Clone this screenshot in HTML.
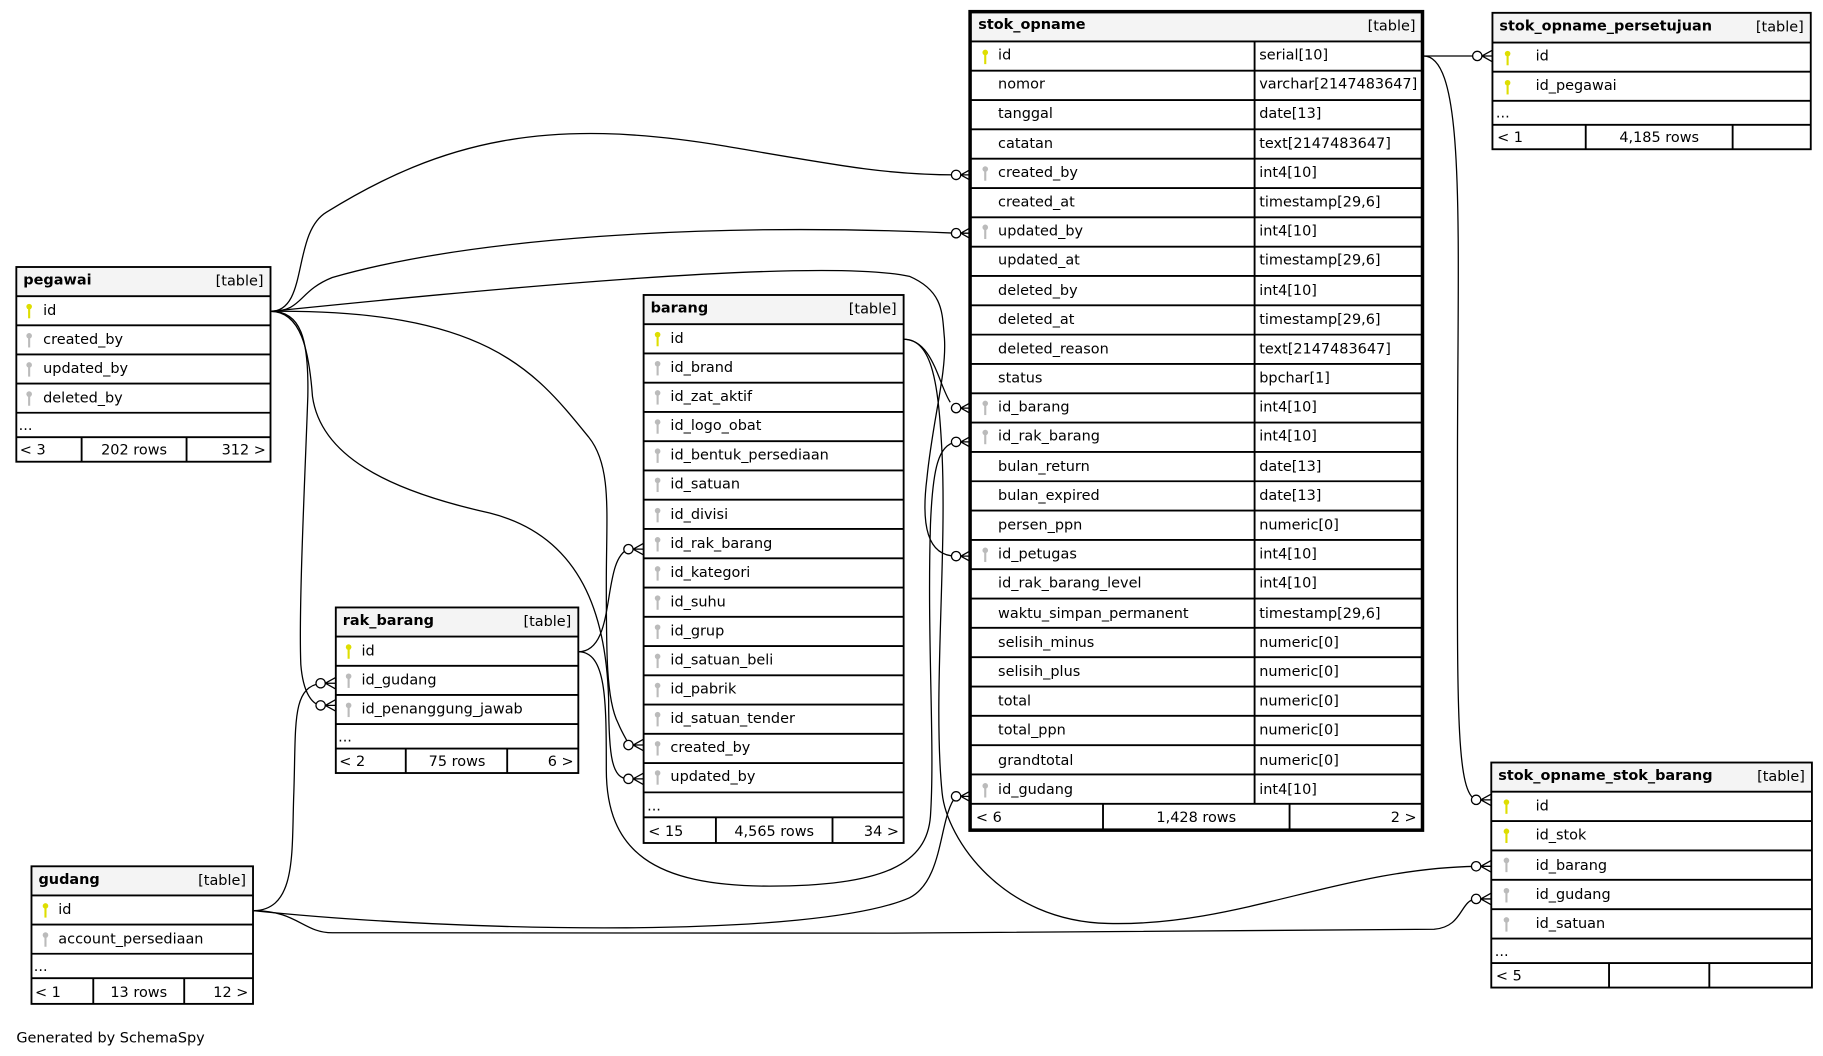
<!DOCTYPE html>
<html><head><meta charset="utf-8"><style>
html,body{margin:0;padding:0;background:#fff;}
svg{display:block;}
text{font-family:"DejaVu Sans","Liberation Sans",sans-serif;font-size:12.4px;fill:#000;}
.h{font-weight:bold;}
.hd{fill:#f4f4f4;}
.ln{stroke:#000;stroke-width:1.6;}
.e{fill:none;stroke:#000;stroke-width:1.1;}
.c{fill:#fff;stroke:#000;stroke-width:1.1;}
</style></head><body>
<svg width="1823" height="1056" viewBox="0 0 1563.5 905.7" preserveAspectRatio="none" xmlns="http://www.w3.org/2000/svg">
<defs>
<g id="pk"><circle cx="0" cy="-3" r="2.4" fill="#dede00"/><rect x="-0.9" y="-2" width="1.8" height="9" fill="#dede00"/></g>
<g id="fk"><circle cx="0" cy="-3" r="2.4" fill="#bbb"/><rect x="-0.9" y="-2" width="1.8" height="9" fill="#bbb"/></g>
<g id="cf"><circle class="c" cx="-13" cy="0" r="4"/><path class="e" d="M-9 0 L0 -5 M-9 0 L0 0 M-9 0 L0 5"/></g>
</defs>

<!-- edges -->
<g>
<path class="e" d="M232 267 C265 267 250 200 280 182 C380 120 470 100 620 125 C720 142 760 150 820 150"/>
<path class="e" d="M232 267 C260 267 255 250 285 238 C400 205 600 190 820 200"/>
<path class="e" d="M232 267 C400 250 700 220 780 237 C810 250 808 270 810 290 C812 320 800 360 795 410 C790 450 795 477 820 477"/>
<path class="e" d="M232 267 C420 265 460 320 505 375 C525 400 520 440 520 500 C520 560 520 600 530 620 C535 632 540 638 539 639"/>
<path class="e" d="M232 267 C258 267 265 300 268 340 C275 390 330 420 420 440 C500 460 520 530 522 600 C522 650 525 668 539 668"/>
<path class="e" d="M232 267 C258 267 265 290 264 340 C262 400 256 520 258 570 C260 595 268 604 275 605"/>
<path class="e" d="M775 291 C800 291 805 330 815 345"/>
<path class="e" d="M775 291 C800 291 805 330 808 390 C812 480 800 600 808 680 C812 720 860 790 950 792 C1060 795 1150 745 1266 743"/>
<path class="e" d="M496 559 C530 559 515 480 539 471"/>
<path class="e" d="M496 559 C520 559 520 600 520 660 C520 730 560 760 660 760 C760 760 795 740 798 700 C802 640 795 550 798 450 C800 400 805 382 820 379"/>
<path class="e" d="M217 781 C255 781 250 730 252 680 C254 620 250 590 275 586"/>
<path class="e" d="M217 781 C400 800 700 805 780 770 C810 755 805 700 820 683"/>
<path class="e" d="M217 781 C255 781 260 800 285 800 C500 802 1000 800 1230 797 C1255 795 1252 772 1266 771"/>
<path class="e" d="M1221 48 L1267 48"/>
<path class="e" d="M1221 48 C1258 48 1250 200 1250 400 C1250 600 1248 680 1266 686"/>
<use href="#cf" x="833" y="150"/>
<use href="#cf" x="833" y="200"/>
<use href="#cf" x="833" y="477"/>
<use href="#cf" x="833" y="350"/>
<use href="#cf" x="833" y="379"/>
<use href="#cf" x="833" y="683"/>
<use href="#cf" x="552" y="471"/>
<use href="#cf" x="552" y="639"/>
<use href="#cf" x="552" y="668"/>
<use href="#cf" x="288" y="586"/>
<use href="#cf" x="288" y="605"/>
<use href="#cf" x="1280" y="48"/>
<use href="#cf" x="1279" y="686"/>
<use href="#cf" x="1279" y="743"/>
<use href="#cf" x="1279" y="771"/>
</g>

<!-- pegawai -->
<g transform="translate(14,229)">
<rect x="0" y="0" width="218" height="25" class="hd"/>
<rect x="0" y="0" width="218" height="167" fill="none" stroke="#000" stroke-width="1.6"/>
<text class="h" x="6" y="15">pegawai</text><text x="212" y="16" text-anchor="end">[table]</text>
<path class="ln" d="M0 25H218M0 50H218M0 75H218M0 100H218M0 125H218M0 146H218M56 146V167M146 146V167"/>
<use href="#pk" x="11" y="37"/><text x="23" y="41">id</text>
<use href="#fk" x="11" y="62"/><text x="23" y="66">created_by</text>
<use href="#fk" x="11" y="87"/><text x="23" y="91">updated_by</text>
<use href="#fk" x="11" y="112"/><text x="23" y="116">deleted_by</text>
<text x="2" y="140">...</text>
<text x="3" y="161">&lt; 3</text><text x="101" y="161" text-anchor="middle">202 rows</text><text x="214" y="161" text-anchor="end">312 &gt;</text>
</g>

<!-- rak_barang -->
<g transform="translate(288,521)">
<rect x="0" y="0" width="208" height="25" class="hd"/>
<rect x="0" y="0" width="208" height="142" fill="none" stroke="#000" stroke-width="1.6"/>
<text class="h" x="6" y="15">rak_barang</text><text x="202" y="16" text-anchor="end">[table]</text>
<path class="ln" d="M0 25H208M0 50H208M0 75H208M0 100H208M0 121H208M60 121V142M147 121V142"/>
<use href="#pk" x="11" y="37"/><text x="22" y="41">id</text>
<use href="#fk" x="11" y="62"/><text x="22" y="66">id_gudang</text>
<use href="#fk" x="11" y="87"/><text x="22" y="91">id_penanggung_jawab</text>
<text x="2" y="115">...</text>
<text x="3" y="136">&lt; 2</text><text x="104" y="136" text-anchor="middle">75 rows</text><text x="204" y="136" text-anchor="end">6 &gt;</text>
</g>

<!-- gudang -->
<g transform="translate(27,743)">
<rect x="0" y="0" width="190" height="25" class="hd"/>
<rect x="0" y="0" width="190" height="118" fill="none" stroke="#000" stroke-width="1.6"/>
<text class="h" x="6" y="15">gudang</text><text x="184" y="16" text-anchor="end">[table]</text>
<path class="ln" d="M0 25H190M0 50H190M0 75H190M0 96H190M53 96V118M131 96V118"/>
<use href="#pk" x="12" y="37"/><text x="23" y="41">id</text>
<use href="#fk" x="12" y="62"/><text x="23" y="66">account_persediaan</text>
<text x="2" y="90">...</text>
<text x="3" y="112">&lt; 1</text><text x="92" y="112" text-anchor="middle">13 rows</text><text x="186" y="112" text-anchor="end">12 &gt;</text>
</g>

<!-- barang -->
<g transform="translate(552,253)">
<rect x="0" y="0" width="223" height="25" class="hd"/>
<rect x="0" y="0" width="223" height="470" fill="none" stroke="#000" stroke-width="1.6"/>
<text class="h" x="6" y="15">barang</text><text x="217" y="16" text-anchor="end">[table]</text>
<path class="ln" d="M0 25H223M0 50.1H223M0 75.2H223M0 100.3H223M0 125.4H223M0 150.5H223M0 175.6H223M0 200.7H223M0 225.8H223M0 250.9H223M0 276H223M0 301.1H223M0 326.2H223M0 351.3H223M0 376.4H223M0 401.5H223M0 426.6H223M0 448H223M62 448V470M162 448V470"/>
<use href="#pk" x="12" y="37"/><text x="23" y="41">id</text>
<use href="#fk" x="12" y="62"/><text x="23" y="66">id_brand</text>
<use href="#fk" x="12" y="87"/><text x="23" y="91">id_zat_aktif</text>
<use href="#fk" x="12" y="112"/><text x="23" y="116">id_logo_obat</text>
<use href="#fk" x="12" y="137"/><text x="23" y="141">id_bentuk_persediaan</text>
<use href="#fk" x="12" y="162"/><text x="23" y="166">id_satuan</text>
<use href="#fk" x="12" y="188"/><text x="23" y="192">id_divisi</text>
<use href="#fk" x="12" y="213"/><text x="23" y="217">id_rak_barang</text>
<use href="#fk" x="12" y="238"/><text x="23" y="242">id_kategori</text>
<use href="#fk" x="12" y="263"/><text x="23" y="267">id_suhu</text>
<use href="#fk" x="12" y="288"/><text x="23" y="292">id_grup</text>
<use href="#fk" x="12" y="313"/><text x="23" y="317">id_satuan_beli</text>
<use href="#fk" x="12" y="338"/><text x="23" y="342">id_pabrik</text>
<use href="#fk" x="12" y="363"/><text x="23" y="367">id_satuan_tender</text>
<use href="#fk" x="12" y="388"/><text x="23" y="392">created_by</text>
<use href="#fk" x="12" y="413"/><text x="23" y="417">updated_by</text>
<text x="3" y="442">...</text>
<text x="4" y="464">&lt; 15</text><text x="112" y="464" text-anchor="middle">4,565 rows</text><text x="219" y="464" text-anchor="end">34 &gt;</text>
</g>

<!-- stok_opname -->
<g transform="translate(832,10)">
<rect x="0" y="0" width="388" height="25.5" class="hd"/>
<path class="ln" d="M0 25.5H388M0 50.65H388M0 75.8H388M0 100.95H388M0 126.1H388M0 151.25H388M0 176.4H388M0 201.55H388M0 226.7H388M0 251.85H388M0 277H388M0 302.15H388M0 327.3H388M0 352.45H388M0 377.6H388M0 402.75H388M0 427.9H388M0 453.05H388M0 478.2H388M0 503.35H388M0 528.5H388M0 553.65H388M0 578.8H388M0 603.95H388M0 629.1H388M0 654.25H388M0 679.4H388M244 25.5V679.4M114 679.4V702M274 679.4V702"/>
<rect x="0" y="0" width="388" height="702" fill="none" stroke="#000" stroke-width="3"/>
<text class="h" x="7" y="15">stok_opname</text><text x="382" y="16" text-anchor="end">[table]</text>
<use href="#pk" x="13" y="38"/><text x="24" y="41">id</text><text x="248" y="41">serial[10]</text>
<text x="24" y="66">nomor</text><text x="248" y="66">varchar[2147483647]</text>
<text x="24" y="91">tanggal</text><text x="248" y="91">date[13]</text>
<text x="24" y="117">catatan</text><text x="248" y="117">text[2147483647]</text>
<use href="#fk" x="13" y="138"/><text x="24" y="142">created_by</text><text x="248" y="142">int4[10]</text>
<text x="24" y="167">created_at</text><text x="248" y="167">timestamp[29,6]</text>
<use href="#fk" x="13" y="188"/><text x="24" y="192">updated_by</text><text x="248" y="192">int4[10]</text>
<text x="24" y="217">updated_at</text><text x="248" y="217">timestamp[29,6]</text>
<text x="24" y="243">deleted_by</text><text x="248" y="243">int4[10]</text>
<text x="24" y="268">deleted_at</text><text x="248" y="268">timestamp[29,6]</text>
<text x="24" y="293">deleted_reason</text><text x="248" y="293">text[2147483647]</text>
<text x="24" y="318">status</text><text x="248" y="318">bpchar[1]</text>
<use href="#fk" x="13" y="339"/><text x="24" y="343">id_barang</text><text x="248" y="343">int4[10]</text>
<use href="#fk" x="13" y="364"/><text x="24" y="368">id_rak_barang</text><text x="248" y="368">int4[10]</text>
<text x="24" y="394">bulan_return</text><text x="248" y="394">date[13]</text>
<text x="24" y="419">bulan_expired</text><text x="248" y="419">date[13]</text>
<text x="24" y="444">persen_ppn</text><text x="248" y="444">numeric[0]</text>
<use href="#fk" x="13" y="465"/><text x="24" y="469">id_petugas</text><text x="248" y="469">int4[10]</text>
<text x="24" y="494">id_rak_barang_level</text><text x="248" y="494">int4[10]</text>
<text x="24" y="520">waktu_simpan_permanent</text><text x="248" y="520">timestamp[29,6]</text>
<text x="24" y="545">selisih_minus</text><text x="248" y="545">numeric[0]</text>
<text x="24" y="570">selisih_plus</text><text x="248" y="570">numeric[0]</text>
<text x="24" y="595">total</text><text x="248" y="595">numeric[0]</text>
<text x="24" y="620">total_ppn</text><text x="248" y="620">numeric[0]</text>
<text x="24" y="646">grandtotal</text><text x="248" y="646">numeric[0]</text>
<use href="#fk" x="13" y="667"/><text x="24" y="671">id_gudang</text><text x="248" y="671">int4[10]</text>
<text x="5" y="695">&lt; 6</text><text x="194" y="695" text-anchor="middle">1,428 rows</text><text x="383" y="695" text-anchor="end">2 &gt;</text>
</g>

<!-- stok_opname_persetujuan -->
<g transform="translate(1280,11)">
<rect x="0" y="0" width="273" height="25.5" class="hd"/>
<rect x="0" y="0" width="273" height="117" fill="none" stroke="#000" stroke-width="1.6"/>
<text class="h" x="6" y="15">stok_opname_persetujuan</text><text x="267" y="16" text-anchor="end">[table]</text>
<path class="ln" d="M0 25.5H273M0 50.5H273M0 75.5H273M0 96H273M80 96V117M206 96V117"/>
<use href="#pk" x="13" y="38"/><text x="37" y="41">id</text>
<use href="#pk" x="13" y="63"/><text x="37" y="66">id_pegawai</text>
<text x="3" y="90">...</text>
<text x="4" y="111">&lt; 1</text><text x="143" y="111" text-anchor="middle">4,185 rows</text>
</g>

<!-- stok_opname_stok_barang -->
<g transform="translate(1279,654)">
<rect x="0" y="0" width="275" height="25" class="hd"/>
<rect x="0" y="0" width="275" height="193" fill="none" stroke="#000" stroke-width="1.6"/>
<text class="h" x="6" y="15">stok_opname_stok_barang</text><text x="269" y="16" text-anchor="end">[table]</text>
<path class="ln" d="M0 25H275M0 50.2H275M0 75.4H275M0 100.6H275M0 125.8H275M0 151H275M0 172H275M101 172V193M187 172V193"/>
<use href="#pk" x="13" y="37"/><text x="38" y="41">id</text>
<use href="#pk" x="13" y="62"/><text x="38" y="66">id_stok</text>
<use href="#fk" x="13" y="87"/><text x="38" y="92">id_barang</text>
<use href="#fk" x="13" y="113"/><text x="38" y="117">id_gudang</text>
<use href="#fk" x="13" y="138"/><text x="38" y="142">id_satuan</text>
<text x="3" y="166">...</text>
<text x="4" y="187">&lt; 5</text>
</g>

<text x="14" y="894">Generated by SchemaSpy</text>
</svg>
</body></html>
